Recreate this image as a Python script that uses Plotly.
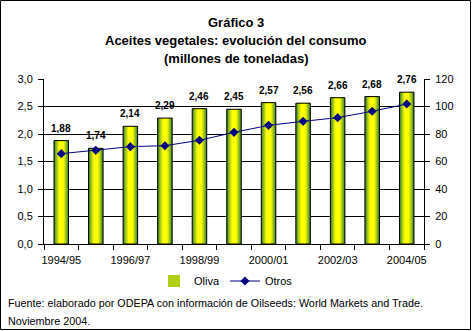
import plotly.graph_objects as go

categories = ["1994/95", "1995/96", "1996/97", "1997/98", "1998/99", "1999/00",
              "2000/01", "2001/02", "2002/03", "2003/04", "2004/05"]
oliva = [1.88, 1.74, 2.14, 2.29, 2.46, 2.45, 2.57, 2.56, 2.66, 2.68, 2.76]
otros = [65.7, 68.1, 70.8, 71.5, 75.4, 81.2, 86.3, 89.2, 91.9, 96.5, 101.8]

x = list(range(len(categories)))
FONT = "Liberation Sans, Arial, sans-serif"

W, H = 472, 331
L, R, T, B = 44, 48, 79, 87
pw, ph = W - L - R, H - T - B

def px(xp):
    return (xp - L) / pw

def py(yp):
    return (H - B - yp) / ph

fig = go.Figure()

# gradient bars (layers)
layers = [
    (0.42, "#3f7c1c"),
    (0.38, "#5e9a22"),
    (0.33, "#86b520"),
    (0.27, "#b0d018"),
    (0.21, "#d8e80c"),
    (0.14, "#ffff00"),
]
for i, (w, c) in enumerate(layers):
    fig.add_trace(go.Bar(
        x=x, y=oliva, width=w, name="Oliva",
        marker=dict(color=c, line=dict(width=0)),
        showlegend=(i == 3), legendrank=1, hoverinfo="skip",
    ))
fig.add_trace(go.Bar(
    x=x, y=oliva, width=0.42, name="outline",
    marker=dict(color="rgba(0,0,0,0)", line=dict(color="black", width=1)),
    showlegend=False, hoverinfo="skip",
))

fig.add_trace(go.Scatter(
    x=x, y=otros, name="Otros", yaxis="y2", mode="lines+markers",
    line=dict(color="#000080", width=1),
    marker=dict(symbol="diamond", size=7, color="#000080"),
    legendrank=2,
))

for xi, v in zip(x, oliva):
    fig.add_annotation(
        x=xi, y=v, xref="x", yref="y", yanchor="bottom", yshift=5,
        text="<b>" + f"{v:.2f}".replace(".", ",") + "</b>",
        showarrow=False, font=dict(family=FONT, size=10, color="black"),
    )

title_lines = ["Gráfico 3", "Aceites vegetales: evolución del consumo", "(millones de toneladas)"]
for k, (line, yc) in enumerate(zip(title_lines, [22, 40, 58])):
    fig.add_annotation(
        x=px(236), y=py(yc), xref="paper", yref="paper", xanchor="center", yanchor="middle",
        text="<b>" + line + "</b>",
        showarrow=False, font=dict(family=FONT, size=13, color="black"),
    )

footer_lines = ["Fuente: elaborado por ODEPA con información de Oilseeds: World Markets and Trade.",
                "Noviembre 2004."]
for line, yc in zip(footer_lines, [303, 321]):
    fig.add_annotation(
        x=px(6), y=py(yc), xref="paper", yref="paper", xanchor="left", yanchor="middle",
        text=line, showarrow=False, font=dict(family=FONT, size=10.8, color="black"),
    )

fig.add_shape(type="rect", xref="paper", yref="paper",
              x0=px(0.5), x1=px(470.5), y0=py(329.5), y1=py(0.5),
              line=dict(color="black", width=1), fillcolor="rgba(0,0,0,0)", layer="above")

fig.update_layout(
    width=W, height=H, margin=dict(l=L, r=R, t=T, b=B, pad=0),
    paper_bgcolor="white", plot_bgcolor="white",
    barmode="overlay", separators=",.",
    font=dict(family=FONT, size=11, color="black"),
    showlegend=True,
    legend=dict(orientation="h", x=px(226), y=py(281), xanchor="center", yanchor="middle",
                font=dict(family=FONT, size=11), bgcolor="rgba(0,0,0,0)",
                itemwidth=30, tracegroupgap=0),
    xaxis=dict(
        range=[-0.5, len(categories) - 0.5], tickmode="array",
        tickvals=x[::2], ticktext=categories[::2], ticks="", ticklen=0,
        ticklabelstandoff=6,
        showline=True, linecolor="black", linewidth=1, showgrid=False, zeroline=False,
        tickfont=dict(family=FONT, size=11),
        minor=dict(tickmode="array", tickvals=[i - 0.5 for i in range(len(categories) + 1)],
                   ticks="outside", ticklen=5, tickcolor="black", tickwidth=1, showgrid=False),
    ),
    yaxis=dict(
        range=[0, 3], dtick=0.5, tick0=0, tickformat=".1f",
        showline=True, linecolor="black", linewidth=1,
        showgrid=True, gridcolor="black", gridwidth=1, zeroline=False,
        ticks="outside", ticklen=5, tickcolor="black", ticklabelstandoff=3,
        tickfont=dict(family=FONT, size=11),
    ),
    yaxis2=dict(
        range=[0, 120], dtick=20, tick0=0, overlaying="y", side="right",
        showline=True, linecolor="black", linewidth=1, showgrid=False, zeroline=False,
        ticks="outside", ticklen=5, tickcolor="black", ticklabelstandoff=3,
        tickfont=dict(family=FONT, size=11),
    ),
)

fig.write_html("out.html")
